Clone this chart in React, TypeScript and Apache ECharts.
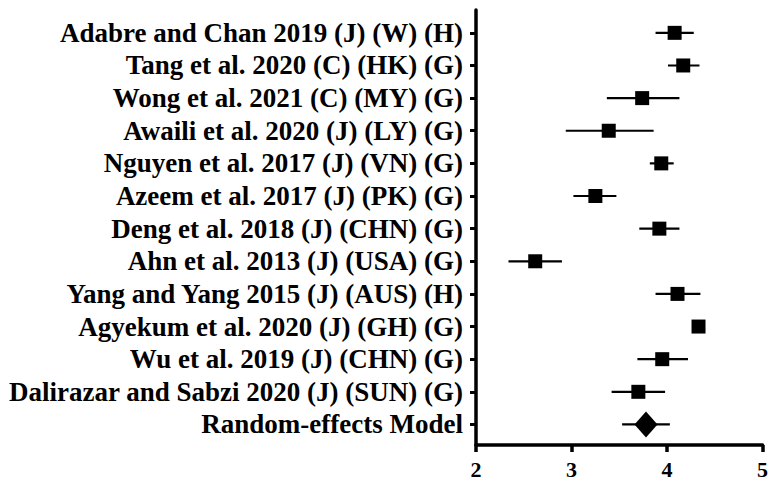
import React, { useEffect, useRef } from "react";
import * as echarts from "echarts";

const studies = [
  "Adabre and Chan 2019 (J) (W) (H)",
  "Tang et al. 2020 (C) (HK) (G)",
  "Wong et al. 2021 (C) (MY) (G)",
  "Awaili et al. 2020 (J) (LY) (G)",
  "Nguyen et al. 2017 (J) (VN) (G)",
  "Azeem et al. 2017 (J) (PK) (G)",
  "Deng et al. 2018 (J) (CHN) (G)",
  "Ahn et al. 2013 (J) (USA) (G)",
  "Yang and Yang 2015 (J) (AUS) (H)",
  "Agyekum et al. 2020 (J) (GH) (G)",
  "Wu et al. 2019 (J) (CHN) (G)",
  "Dalirazar and Sabzi 2020 (J) (SUN) (G)",
  "Random-effects Model",
];
const means = [4.08, 4.17, 3.74, 3.39, 3.94, 3.25, 3.92, 2.62, 4.11, 4.33, 3.95, 3.7, 3.78];
const lows = [3.88, 4.01, 3.37, 2.94, 3.82, 3.02, 3.71, 2.34, 3.88, 4.3, 3.69, 3.42, 3.53];
const highs = [4.28, 4.34, 4.13, 3.86, 4.07, 3.47, 4.13, 2.9, 4.35, 4.36, 4.22, 3.98, 4.03];
const xTicks = [2, 3, 4, 5];

const FONT = "'Liberation Serif', 'Times New Roman', serif";

export default function App() {
  const ref = useRef<HTMLDivElement>(null);
  useEffect(() => {
    if (!ref.current) return;
    document.body.style.margin = "0";
    document.body.style.overflow = "hidden";
    const chart = echarts.init(ref.current, undefined, { renderer: "svg" });
    const idx = studies.map((_, i) => i);
    const last = studies.length - 1;
    chart.setOption({
      animation: false,
      grid: { left: 476, right: 6, top: 10, bottom: 35, containLabel: false },
      xAxis: {
        type: "value",
        min: xTicks[0],
        max: xTicks[xTicks.length - 1],
        interval: 1,
        splitLine: { show: false },
        axisLine: { show: true, onZero: false, lineStyle: { color: "#000", width: 3.5 } },
        axisTick: { show: true, length: 7, lineStyle: { color: "#000", width: 3.5 } },
        axisLabel: {
          color: "#000",
          fontFamily: FONT,
          fontWeight: "bold",
          fontSize: 22,
          margin: 13,
          showMaxLabel: true,
          showMinLabel: true,
        },
      },
      yAxis: {
        type: "value",
        inverse: true,
        min: -0.7,
        max: 12.63,
        splitLine: { show: false },
        axisLine: { show: true, onZero: false, lineStyle: { color: "#000", width: 3.5 } },
        axisTick: {
          show: true,
          length: 6,
          customValues: idx,
          lineStyle: { color: "#000", width: 3 },
        },
        axisLabel: {
          color: "#000",
          fontFamily: FONT,
          fontWeight: "bold",
          fontSize: 27,
          margin: 13,
          customValues: idx,
          formatter: (v: number) => studies[Math.round(v)] ?? "",
        },
      },
      series: [
        {
          type: "custom",
          data: idx.map((i) => [lows[i], highs[i], i]),
          renderItem: (_params: any, api: any) => {
            const a = api.coord([api.value(0), api.value(2)]);
            const b = api.coord([api.value(1), api.value(2)]);
            return {
              type: "line",
              shape: { x1: a[0], y1: a[1], x2: b[0], y2: b[1] },
              style: { stroke: "#000", lineWidth: 2.2 },
            };
          },
          z: 1,
        },
        {
          type: "scatter",
          symbol: "rect",
          symbolSize: 14,
          itemStyle: { color: "#000", opacity: 1 },
          data: idx.filter((i) => i !== last).map((i) => [means[i], i]),
          z: 2,
        },
        {
          type: "scatter",
          symbol: "diamond",
          symbolSize: [23, 26],
          itemStyle: { color: "#000", opacity: 1 },
          data: [[means[last], last]],
          z: 2,
        },
      ],
    });
    return () => chart.dispose();
  }, []);
  return (
    <div
      ref={ref}
      style={{ position: "absolute", left: 0, top: 0, width: 771, height: 480 }}
    />
  );
}
